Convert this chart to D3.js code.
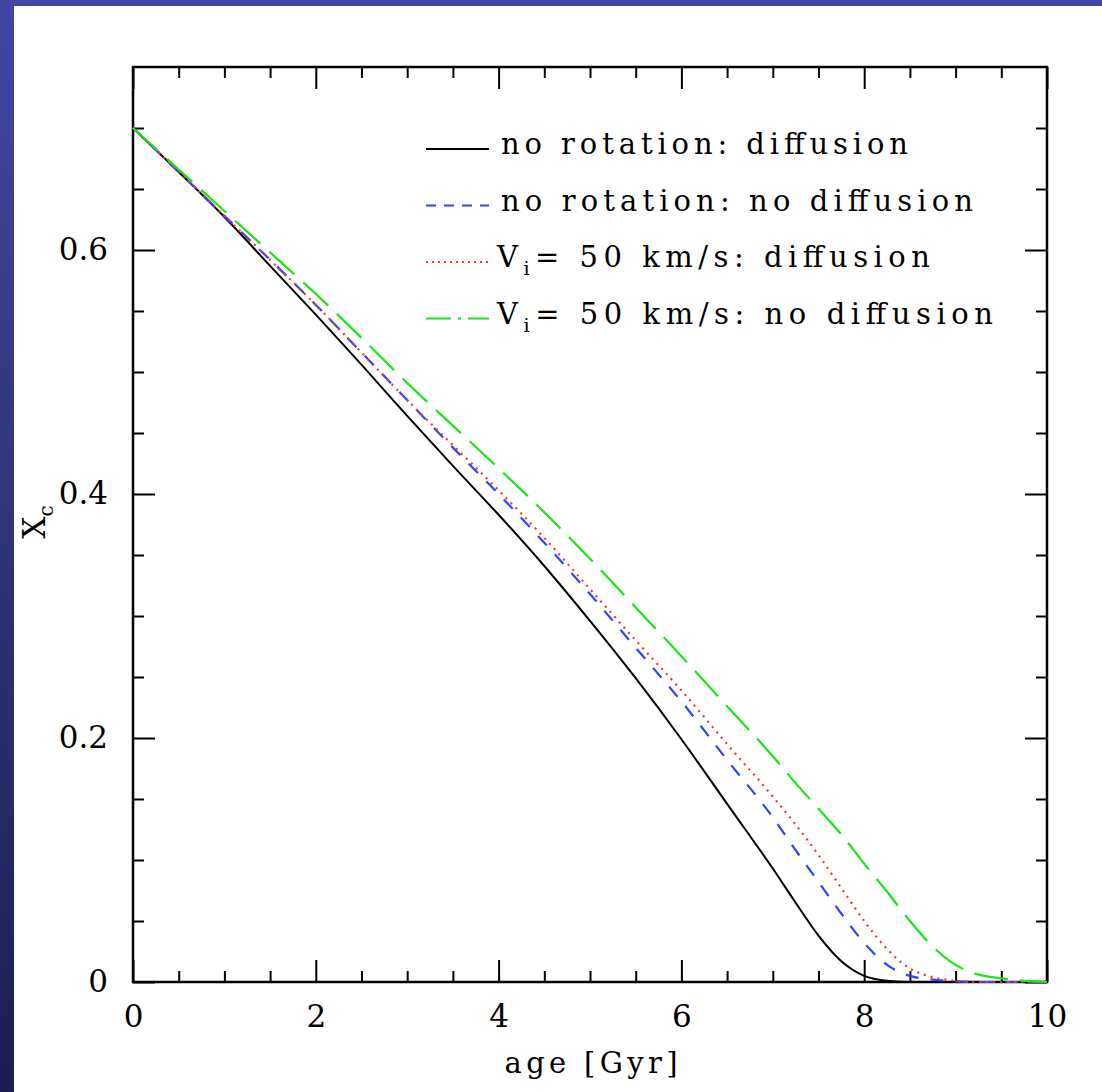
<!DOCTYPE html>
<html>
<head>
<meta charset="utf-8">
<script src="https://cdn.jsdelivr.net/npm/d3@7"></script>
<style>
  body { margin: 0; }
  svg { display: block; }
</style>
</head>
<body>
<div id="grafico"></div>
<script>
// Datos
var ages = [0, 0.5, 1, 1.5, 2, 2.5, 3, 3.5, 4, 4.5, 5, 5.5, 6, 6.5, 7, 7.25, 7.5, 7.75, 8, 8.25, 8.5, 8.75, 9, 9.25, 9.5, 10];
var noRotDiff   = [0.700, 0.664, 0.627, 0.587, 0.547, 0.506, 0.464, 0.423, 0.383, 0.341, 0.296, 0.249, 0.199, 0.146, 0.093, 0.065, 0.038, 0.017, 0.005, 0.001, 0, 0, 0, 0, 0, 0];
var noRotNoDiff = [0.700, 0.664, 0.628, 0.592, 0.555, 0.516, 0.477, 0.438, 0.400, 0.360, 0.318, 0.274, 0.230, 0.182, 0.135, 0.108, 0.082, 0.056, 0.032, 0.014, 0.005, 0.002, 0.0005, 0, 0, 0];
var rotDiff     = [0.700, 0.664, 0.628, 0.592, 0.555, 0.516, 0.477, 0.440, 0.403, 0.364, 0.322, 0.280, 0.239, 0.195, 0.152, 0.129, 0.104, 0.077, 0.050, 0.027, 0.011, 0.004, 0.001, 0, 0, 0];
var rotNoDiff   = [0.700, 0.666, 0.632, 0.598, 0.564, 0.528, 0.491, 0.456, 0.421, 0.385, 0.347, 0.307, 0.267, 0.226, 0.185, 0.163, 0.142, 0.121, 0.097, 0.074, 0.050, 0.029, 0.014, 0.006, 0.003, 0];

var xMajorTicks = [0, 2, 4, 6, 8, 10];
var xMinorTicks = [0.5, 1, 1.5, 2.5, 3, 3.5, 4.5, 5, 5.5, 6.5, 7, 7.5, 8.5, 9, 9.5];
var yMajorTicks = [0, 0.2, 0.4, 0.6];
var yMinorTicks = [0.05, 0.1, 0.15, 0.25, 0.3, 0.35, 0.45, 0.5, 0.55, 0.65, 0.7];

var series = [
  {name: "no rotation: diffusion",    values: noRotDiff,   color: "#000000", dash: null,    w: 2},
  {name: "no rotation: no diffusion", values: noRotNoDiff, color: "#2b45ff", dash: "13,12", w: 2.2},
  {name: "= 50 km/s: diffusion",      values: rotDiff,     color: "#ff3030", dash: "2,5",   w: 2.2},
  {name: "= 50 km/s: no diffusion",   values: rotNoDiff,   color: "#19e619", dash: "34,12", w: 2.2}
];

var W = 1102, H = 1092;
var margin = {top: 67, right: 55, bottom: 110, left: 133},
    width = W - margin.left - margin.right,
    height = H - margin.top - margin.bottom;

var svg = d3.select("#grafico")
  .append("svg")
    .attr("width", W)
    .attr("height", H);

// Fondo: franja azul con degradado
var grad = svg.append("defs").append("linearGradient")
  .attr("id", "fondo").attr("x1", 0).attr("y1", 0).attr("x2", 0).attr("y2", 1);
grad.append("stop").attr("offset", "0%").attr("stop-color", "#4048a3");
grad.append("stop").attr("offset", "100%").attr("stop-color", "#1d1f4e");
svg.append("rect").attr("width", W).attr("height", H).attr("fill", "url(#fondo)");
svg.append("rect").attr("x", 14).attr("y", 6).attr("width", W - 14).attr("height", H - 6).attr("fill", "#ffffff");

var g = svg.append("g")
  .attr("transform", "translate(" + margin.left + "," + margin.top + ")");

var x = d3.scaleLinear().domain([0, 10]).range([0, width]);
var y = d3.scaleLinear().domain([0, 0.75]).range([height, 0]);

var fuente = "'DejaVu Serif', serif";

function estilo(sel) {
  sel.select(".domain").remove();
  sel.selectAll(".tick line").attr("stroke", "#000").attr("stroke-width", 2);
  sel.selectAll("text").style("font-family", fuente).style("font-size", "31px").attr("fill", "#000");
}

// Ejes X
g.append("g").attr("transform", "translate(0," + height + ")")
  .call(d3.axisBottom(x).tickValues(xMajorTicks).tickSize(-22).tickPadding(23).tickFormat(d3.format("d")))
  .call(estilo);
g.append("g").attr("transform", "translate(0," + height + ")")
  .call(d3.axisBottom(x).tickValues(xMinorTicks).tickSize(-11).tickFormat(""))
  .call(estilo);
g.append("g")
  .call(d3.axisTop(x).tickValues(xMajorTicks).tickSize(-22).tickFormat(""))
  .call(estilo);
g.append("g")
  .call(d3.axisTop(x).tickValues(xMinorTicks).tickSize(-11).tickFormat(""))
  .call(estilo);

// Ejes Y
g.append("g")
  .call(d3.axisLeft(y).tickValues(yMajorTicks).tickSize(-22).tickPadding(25)
    .tickFormat(function(d) { return d === 0 ? "0" : d3.format(".1f")(d); }))
  .call(estilo);
g.append("g")
  .call(d3.axisLeft(y).tickValues(yMinorTicks).tickSize(-11).tickFormat(""))
  .call(estilo);
g.append("g").attr("transform", "translate(" + width + ",0)")
  .call(d3.axisRight(y).tickValues(yMajorTicks).tickSize(-22).tickFormat(""))
  .call(estilo);
g.append("g").attr("transform", "translate(" + width + ",0)")
  .call(d3.axisRight(y).tickValues(yMinorTicks).tickSize(-11).tickFormat(""))
  .call(estilo);

// Marco
g.append("rect")
  .attr("width", width).attr("height", height)
  .attr("fill", "none").attr("stroke", "#000").attr("stroke-width", 2.5);

// Curvas
var linea = d3.line()
  .x(function(d, i) { return x(ages[i]); })
  .y(function(d) { return y(d); })
  .curve(d3.curveMonotoneX);

series.forEach(function(s) {
  g.append("path")
    .datum(s.values)
    .attr("fill", "none")
    .attr("stroke", s.color)
    .attr("stroke-width", s.w)
    .attr("stroke-dasharray", s.dash)
    .attr("d", linea);
});

// Leyenda
var leyenda = svg.append("g");
var anchos = [407, 472, 433, 496];
var muestraDash = [null, "10,8", "2,4", "25,7,3,7"];
series.forEach(function(s, i) {
  var yb = 154 + i * 56.5;
  leyenda.append("line")
    .attr("x1", 426).attr("x2", 489)
    .attr("y1", yb - 5).attr("y2", yb - 5)
    .attr("stroke", s.color).attr("stroke-width", 2)
    .attr("stroke-dasharray", muestraDash[i]);
  var t = leyenda.append("text")
    .attr("x", i < 2 ? 501 : 497)
    .attr("y", yb)
    .attr("textLength", anchos[i])
    .attr("lengthAdjust", "spacing")
    .style("font-family", fuente)
    .style("font-size", "29px");
  if (i < 2) {
    t.text(s.name);
  } else {
    t.append("tspan").text("V");
    t.append("tspan").attr("dy", 8).style("font-size", "19px").text("i");
    t.append("tspan").attr("dy", -8).text(s.name);
  }
});

// Etiquetas de ejes
svg.append("text")
  .attr("x", 591).attr("y", 1073)
  .attr("text-anchor", "middle")
  .attr("textLength", 173).attr("lengthAdjust", "spacing")
  .style("font-family", fuente).style("font-size", "29px")
  .text("age [Gyr]");

var ylab = svg.append("text")
  .attr("transform", "translate(45,522) rotate(-90)")
  .attr("text-anchor", "middle")
  .style("font-family", fuente).style("font-size", "31px");
ylab.append("tspan").text("X");
ylab.append("tspan").attr("dy", 8).style("font-size", "20px").text("c");
</script>
</body>
</html>
